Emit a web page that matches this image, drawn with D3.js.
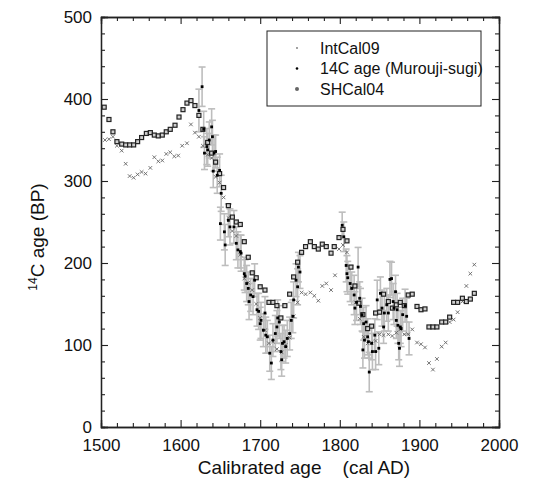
<!DOCTYPE html>
<html>
<head>
<meta charset="utf-8">
<script src="https://cdn.jsdelivr.net/npm/d3@7"></script>
<style>
  body { margin: 0; background: #fff; }
  text { font-family: "Liberation Sans", Arial, Helvetica, sans-serif; fill: #111; }
</style>
</head>
<body>
<svg id="chart" width="539" height="482"></svg>
<script>
// tick labels
var xTicks = [1500, 1600, 1700, 1800, 1900, 2000];
var yTicks = [0, 100, 200, 300, 400, 500];

// SHCal04 (open squares)
var shcalYears = [1504,1510,1515,1520,1526,1531,1536,1541,1546,1551,
    1557,1562,1567,1572,1577,1582,1587,1593,1598,1603,
    1608,1613,1618,1623,1628,1634,1639,1644,1649,1654,
    1660,1665,1670,1675,1680,1685,1690,1695,1700,1706,
    1711,1716,1721,1726,1731,1737,1742,1747,1752,1757,
    1763,1768,1773,1778,1783,1789,1793,1799,1804,1809,
    1814,1819,1824,1829,1835,1840,1845,1850,1855,1861,
    1866,1871,1876,1881,1886,1891,1897,1902,1907,1912,
    1917,1922,1928,1933,1938,1943,1948,1954,1959,1964,1969];
var shcalAge = [390,375,360,348,345,344,344,344,348,353,
    358,359,356,355,356,360,363,368,378,387,
    395,398,392,380,363,347,334,323,309,292,
    270,256,250,247,226,207,188,182,171,167,
    152,152,148,133,148,162,183,201,213,220,
    226,220,217,223,220,212,220,231,241,227,
    195,172,151,137,120,123,139,140,162,153,
    145,149,152,148,161,162,147,143,144,122,
    122,122,128,128,134,152,152,157,153,156,163];

// IntCal09 (small crosses)
var intcalYears = [1505,1510,1515,1520,1526,1531,1536,1541,1546,1551,
    1556,1562,1567,1572,1577,1582,1587,1592,1597,1602,
    1608,1613,1618,1623,1628,1634,1639,1644,1649,1654,
    1660,1665,1670,1675,1680,1685,1690,1695,1700,1706,
    1711,1716,1721,1727,1732,1737,1742,1747,1752,1757,
    1763,1768,1773,1778,1783,1789,1794,1799,1804,1809,
    1815,1820,1825,1830,1835,1840,1845,1850,1855,1861,
    1866,1871,1876,1881,1886,1891,1897,1902,1907,1912,
    1917,1922,1928,1933,1938,1943,1948,1954,1959,1964,1969];
var intcalAge = [350,351,354,343,337,321,306,304,308,311,
    309,316,329,324,325,333,335,330,331,343,
    346,369,359,354,343,332,328,305,298,280,
    255,239,233,210,181,176,167,150,133,118,
    102,104,95,91,100,109,135,152,164,162,
    164,160,154,172,175,167,185,217,222,213,
    170,152,132,110,102,103,105,113,112,113,
    111,115,119,113,113,119,103,101,97,78,
    70,83,98,103,128,131,140,153,172,187,198];

// 14C age (Murouji-sugi), with 1-sigma errors
var muroujiYears = [1623,1627,1629,1630,1633,1634,1636,1639,1640,1641,
    1642,1644,1646,1649,1650,1651,1655,1656,1660,1662,
    1667,1670,1672,1675,1676,1680,1681,1683,1685,1686,
    1688,1691,1693,1696,1698,1700,1701,1704,1706,1707,
    1709,1712,1714,1716,1719,1721,1722,1724,1726,1727,
    1728,1730,1732,1734,1737,1739,1741,1742,1745,1747,
    1748,1750,
    1803,1805,1808,1809,1810,1813,1815,1818,1819,1821,
    1823,1825,1826,1828,1829,1830,1831,1833,1835,1836,
    1837,1840,1841,1844,1845,1847,1849,1851,1853,1855,
    1856,1859,1861,1863,1865,1867,1868,1870,1871,1872,
    1873,1874,1875,1876,1877,1879,1882,1884,1887];
var muroujiAge = [386,415,363,334,342,338,350,366,354,312,
    334,336,307,313,248,285,238,222,252,244,
    244,224,216,214,212,187,184,175,169,153,
    161,159,179,143,141,126,130,118,139,112,
    110,90,78,106,114,122,133,128,92,82,
    102,104,98,108,114,130,135,155,179,171,
    195,189,
    246,232,197,187,182,175,169,161,145,152,
    195,157,147,137,94,126,106,128,110,104,
    67,102,92,112,92,155,96,163,145,122,
    139,149,139,180,181,153,145,165,130,143,
    124,102,96,122,120,137,148,135,108];
var muroujiErr = [26,24,22,20,22,20,22,22,20,20,
    22,20,22,20,20,22,22,25,20,22,
    20,20,22,20,22,20,20,22,20,22,
    20,22,20,20,22,20,22,20,20,22,
    20,22,20,20,22,20,22,20,22,20,
    22,20,20,22,20,22,20,22,20,22,
    18,20,
    16,18,20,22,20,22,20,24,20,22,
    24,20,22,20,22,20,22,20,22,20,
    24,20,22,20,22,24,20,20,22,20,
    22,20,22,22,20,22,20,20,22,20,
    22,20,22,20,22,20,20,22,20];

var legendLabels = ["IntCal09", "14C age (Murouji-sugi)", "SHCal04"];

var svg = d3.select("#chart");

var x = d3.scaleLinear().domain([1500, 2000]).range([101, 499]);
var y = d3.scaleLinear().domain([0, 500]).range([427, 17]);

function translate(a, b) {
    return "translate(" + a + "," + b + ")";
}

// frame + ticks (ticks point inward on all four sides)
var xMinor = x.ticks(25).filter(function(v) { return xTicks.indexOf(v) < 0; });
var yMinor = y.ticks(25).filter(function(v) { return yTicks.indexOf(v) < 0; });

function axisStyle(g) {
    g.selectAll("path.domain").attr("stroke", "#222").attr("stroke-width", 1.3);
    g.selectAll(".tick line").attr("stroke", "#222").attr("stroke-width", 1.1);
    g.selectAll(".tick text")
        .style("font-size", "17px")
        .style("font-family", "'Liberation Sans', Arial, sans-serif")
        .attr("fill", "#111");
}

// bottom
svg.append("g").attr("transform", translate(0, 427))
    .call(d3.axisBottom(x).tickValues(xTicks).tickFormat(d3.format("d"))
        .tickSize(-7).tickPadding(12))
    .call(axisStyle);
svg.append("g").attr("transform", translate(0, 427))
    .call(d3.axisBottom(x).tickValues(xMinor).tickFormat("").tickSize(-4))
    .call(axisStyle);
// top
svg.append("g").attr("transform", translate(0, 17))
    .call(d3.axisTop(x).tickValues(xTicks).tickFormat("").tickSize(-7))
    .call(axisStyle);
svg.append("g").attr("transform", translate(0, 17))
    .call(d3.axisTop(x).tickValues(xMinor).tickFormat("").tickSize(-4))
    .call(axisStyle);
// left
svg.append("g").attr("transform", translate(101, 0))
    .call(d3.axisLeft(y).tickValues(yTicks).tickFormat(d3.format("d"))
        .tickSize(-7).tickPadding(9))
    .call(axisStyle);
svg.append("g").attr("transform", translate(101, 0))
    .call(d3.axisLeft(y).tickValues(yMinor).tickFormat("").tickSize(-4))
    .call(axisStyle);
// right
svg.append("g").attr("transform", translate(499, 0))
    .call(d3.axisRight(y).tickValues(yTicks).tickFormat("").tickSize(-7))
    .call(axisStyle);
svg.append("g").attr("transform", translate(499, 0))
    .call(d3.axisRight(y).tickValues(yMinor).tickFormat("").tickSize(-4))
    .call(axisStyle);

// axis titles
svg.append("text")
    .attr("x", 304).attr("y", 474)
    .attr("text-anchor", "middle")
    .style("font-size", "19px")
    .attr("xml:space", "preserve")
    .text("Calibrated age    (cal AD)");

var yTitle = svg.append("text")
    .attr("transform", translate(44, 237) + " rotate(-90)")
    .attr("text-anchor", "middle")
    .style("font-size", "19px");
yTitle.append("tspan").style("font-size", "12px").attr("dy", -7).text("14");
yTitle.append("tspan").attr("dy", 7).text("C age (BP)");

var plot = svg.append("g");

// data tables
var murouji = muroujiYears.map(function(yr, i) {
    return { x: yr, y: muroujiAge[i], e: muroujiErr[i] };
});
var intcal = intcalYears.map(function(yr, i) { return { x: yr, y: intcalAge[i] }; });
var shcal = shcalYears.map(function(yr, i) { return { x: yr, y: shcalAge[i] }; });

// error bars
var bars = plot.append("g").attr("class", "errorbars")
    .attr("stroke", "#bdbdbd").attr("stroke-width", 1.6);
var eb = bars.selectAll("g").data(murouji).enter().append("g");
eb.append("line")
    .attr("x1", d => x(d.x)).attr("x2", d => x(d.x))
    .attr("y1", d => y(d.y - d.e)).attr("y2", d => y(d.y + d.e));
eb.append("line")
    .attr("x1", d => x(d.x) - 3.5).attr("x2", d => x(d.x) + 3.5)
    .attr("y1", d => y(d.y + d.e)).attr("y2", d => y(d.y + d.e));
eb.append("line")
    .attr("x1", d => x(d.x) - 3.5).attr("x2", d => x(d.x) + 3.5)
    .attr("y1", d => y(d.y - d.e)).attr("y2", d => y(d.y - d.e));

// IntCal09 crosses
plot.append("g").attr("stroke", "#666").attr("stroke-width", 0.9)
    .selectAll("path").data(intcal).enter().append("path")
    .attr("d", function(d) {
        var cx = x(d.x), cy = y(d.y), s = 1.8;
        return "M" + (cx - s) + "," + (cy - s) + "L" + (cx + s) + "," + (cy + s)
            + "M" + (cx - s) + "," + (cy + s) + "L" + (cx + s) + "," + (cy - s);
    });

// SHCal04 squares
plot.append("g").selectAll("rect").data(shcal).enter().append("rect")
    .attr("x", d => x(d.x) - 2).attr("y", d => y(d.y) - 2)
    .attr("width", 4).attr("height", 4)
    .attr("fill", "#cfcfcf").attr("stroke", "#222").attr("stroke-width", 1.2);

// Murouji-sugi dots
plot.append("g").selectAll("rect").data(murouji).enter().append("rect")
    .attr("x", d => x(d.x) - 1.4).attr("y", d => y(d.y) - 1.4)
    .attr("width", 2.8).attr("height", 2.8)
    .attr("fill", "#000");

// legend
var legend = svg.append("g").attr("class", "legend");
legend.append("rect")
    .attr("x", 267).attr("y", 31).attr("width", 214).attr("height", 75)
    .attr("fill", "#fff").attr("stroke", "#222").attr("stroke-width", 1);
var legendSym = [
    { r: 0.9, fill: "#777" },
    { r: 1.3, fill: "#000" },
    { r: 2.0, fill: "#666" }
];
var row = legend.selectAll("g.row").data(legendLabels).enter().append("g")
    .attr("class", "row")
    .attr("transform", (d, i) => translate(0, 48 + i * 20.5));
row.append("circle")
    .attr("cx", 297).attr("cy", 0)
    .attr("r", (d, i) => legendSym[i].r)
    .attr("fill", (d, i) => legendSym[i].fill);
row.append("text")
    .attr("x", 320).attr("y", 0).attr("dy", "0.35em")
    .style("font-size", "16px")
    .text(d => d);
</script>
</body>
</html>
